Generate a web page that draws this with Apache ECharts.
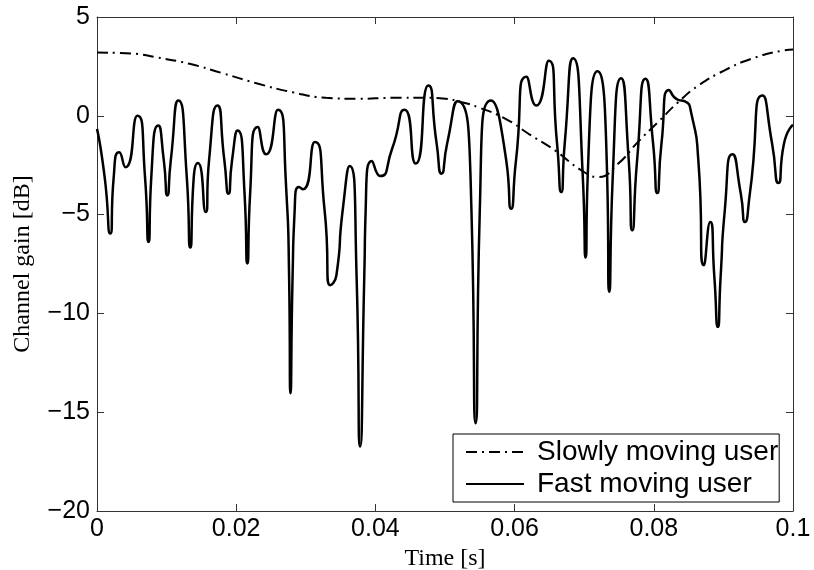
<!DOCTYPE html>
<html>
<head>
<meta charset="utf-8">
<script src="https://cdn.jsdelivr.net/npm/echarts@6/dist/echarts.min.js"></script>
<style>
  html, body { margin: 0; padding: 0; background: #fff; }
  #chart { width: 814px; height: 570px; }
</style>
</head>
<body>
<div id="chart"></div>
<script>
// ---- data ----
const xTicks = [0, 0.02, 0.04, 0.06, 0.08, 0.1];
const yTicks = [-20, -15, -10, -5, 0, 5];
const seriesNames = ['Slowly moving user', 'Fast moving user'];

const slowTime = [0, 0.005, 0.0085, 0.0133, 0.0181, 0.0229, 0.0281, 0.0329, 0.0377, 0.0424, 0.0472, 0.0501, 0.0524, 0.0548, 0.0587, 0.0620, 0.0658, 0.0696, 0.0720, 0.0749, 0.0777, 0.0806, 0.0835, 0.0864, 0.0901, 0.0940, 0.0985, 0.1];
const slowGain = [3.2, 3.15, 2.96, 2.63, 2.15, 1.65, 1.19, 0.91, 0.86, 0.91, 0.91, 0.86, 0.69, 0.43, -0.15, -0.91, -1.75, -2.76, -3.10, -2.42, -1.33, -0.32, 0.69, 1.53, 2.29, 2.88, 3.3, 3.35];

const fastTime = [0.0000, 0.0011, 0.0019, 0.0024, 0.0032, 0.0041, 0.0058, 0.0069, 0.0074, 0.0078,
  0.0088, 0.0096, 0.0101, 0.0106, 0.0117, 0.0129, 0.0134, 0.0139, 0.0145, 0.0156,
  0.0161, 0.0173, 0.0183, 0.0189, 0.0194, 0.0202, 0.0212, 0.0216, 0.0220, 0.0231,
  0.0243, 0.0260, 0.0271, 0.0276, 0.0278, 0.0281, 0.0284, 0.0290, 0.0296, 0.0313,
  0.0327, 0.0335, 0.0344, 0.0353, 0.0363, 0.0373, 0.0378, 0.0384, 0.0386, 0.0395,
  0.0407, 0.0424, 0.0442, 0.0458, 0.0476, 0.0488, 0.0495, 0.0503, 0.0518, 0.0538,
  0.0544, 0.0550, 0.0566, 0.0588, 0.0595, 0.0602, 0.0617, 0.0631, 0.0649, 0.0661,
  0.0667, 0.0672, 0.0684, 0.0698, 0.0702, 0.0705, 0.0719, 0.0733, 0.0736, 0.0741,
  0.0753, 0.0764, 0.0769, 0.0776, 0.0788, 0.0799, 0.0805, 0.0811, 0.0822, 0.0835,
  0.0844, 0.0854, 0.0864, 0.0872, 0.0881, 0.0887, 0.0892, 0.0896, 0.0902, 0.0913,
  0.0925, 0.0931, 0.0938, 0.0956, 0.0970, 0.0979, 0.0987, 0.1000];
const fastGain = [-0.66, -3.1, -5.96, -3.1, -1.84, -2.6, 0.0, -3.1, -6.38, -3.1,
  -0.49, -2.26, -4.03, -2.26, 0.77, -3.1, -6.67, -3.1, -2.39, -4.87,
  -2.26, 0.52, -2.26, -3.94, -2.26, -0.74, -3.94, -7.47, -3.94, -0.57,
  -1.95, 0.30, -3.1, -8.15, -14.04, -8.15, -4.78, -3.6, -3.72, -1.33,
  -4.78, -8.57, -8.07, -4.78, -2.54, -8.15, -16.74, -8.15, -4.78, -2.29,
  -3.05, -1.67, 0.30, -2.42, 1.53, -1.41, -2.93, -1.41, 0.74, -4.78,
  -15.56, -4.78, 0.77, -2.26, -4.7, -2.26, 1.98, 0.52, 2.79, -1.41,
  -3.86, -1.41, 2.91, -3.1, -7.17, -3.1, 2.25, -3.1, -8.91, -3.1,
  1.90, -2.26, -5.79, -2.26, 1.87, -1.41, -3.91, -1.41, 1.31, 0.81,
  0.74, 0.1, -2.26, -7.56, -5.37, -8.15, -10.68, -8.15, -4.78, -1.95,
  -3.94, -5.37, -3.94, 1.03, -1.41, -3.4, -1.41, -0.45];

// ---- chart ----
const zip = (a, b) => a.map((v, i) => [v, b[i]]);
const axisColor = '#333';
const labelFont = { fontFamily: 'Liberation Sans', fontSize: 25, color: '#000' };
const titleFont = { fontFamily: 'Liberation Serif', fontSize: 24, color: '#000' };

const xBase = {
  type: 'value', min: xTicks[0], max: xTicks[xTicks.length - 1],
  interval: xTicks[1] - xTicks[0],
  axisLine: { show: true, onZero: false, lineStyle: { color: axisColor, width: 1 } },
  axisTick: { show: true, inside: true, length: 7, lineStyle: { color: axisColor } },
  splitLine: { show: false }
};
const yBase = {
  type: 'value', min: yTicks[0], max: yTicks[yTicks.length - 1],
  interval: yTicks[1] - yTicks[0],
  axisLine: { show: true, onZero: false, lineStyle: { color: axisColor, width: 1 } },
  axisTick: { show: true, inside: true, length: 7, lineStyle: { color: axisColor } },
  splitLine: { show: false }
};

const chart = echarts.init(document.getElementById('chart'), null, { renderer: 'canvas' });
chart.setOption({
  animation: false,
  backgroundColor: '#fff',
  grid: { left: 97, right: 21, top: 17, bottom: 59, containLabel: false, outerBoundsMode: 'none' },
  xAxis: [
    Object.assign({}, xBase, {
      position: 'bottom',
      axisLabel: Object.assign({ margin: 6, formatter: v => String(+v.toFixed(2)) }, labelFont),
      name: 'Time [s]', nameLocation: 'middle', nameGap: 31, nameTextStyle: titleFont
    }),
    Object.assign({}, xBase, { position: 'top', axisLabel: { show: false } })
  ],
  yAxis: [
    Object.assign({}, yBase, {
      position: 'left',
      axisLabel: Object.assign({ margin: 7, formatter: v => (v < 0 ? '\u2212' + Math.abs(v) : String(v)) }, labelFont),
      name: 'Channel gain [dB]', nameLocation: 'middle', nameGap: 62, nameTextStyle: titleFont
    }),
    Object.assign({}, yBase, { position: 'right', axisLabel: { show: false } })
  ],
  legend: {
    orient: 'vertical', left: 453, top: 434,
    data: seriesNames,
    backgroundColor: '#fff', borderColor: '#000', borderWidth: 1, borderRadius: 0,
    padding: [4, 1, 4, 12],
    itemWidth: 58, itemHeight: 14, itemGap: 4,
    itemStyle: { opacity: 0 },
    textStyle: { fontFamily: 'Liberation Sans', fontSize: 28, color: '#000', padding: [0, 0, 0, 8] }
  },
  series: [
    {
      name: seriesNames[0], type: 'line', xAxisIndex: 0, yAxisIndex: 0,
      data: zip(slowTime, slowGain), smooth: 0.5, symbol: 'none',
      itemStyle: { color: '#000' },
      lineStyle: { color: '#000', width: 2, type: [11, 5, 2, 5] }, z: 2
    },
    {
      name: seriesNames[1], type: 'line', xAxisIndex: 0, yAxisIndex: 0,
      data: zip(fastTime, fastGain), smooth: 0.7, symbol: 'none',
      itemStyle: { color: '#000' },
      lineStyle: { color: '#000', width: 2.5 }, z: 3
    }
  ]
});
</script>
</body>
</html>
